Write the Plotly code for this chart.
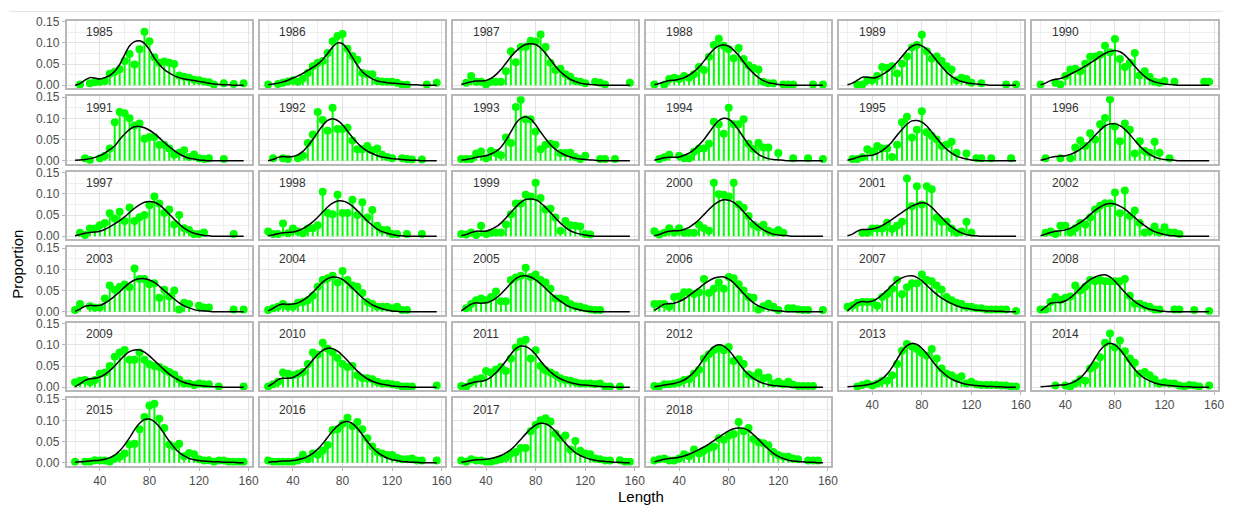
import plotly.graph_objects as go

N = None
lengths = list(range(20, 157, 4))
years = list(range(1985, 2019))
x_ticks = [40, 80, 120, 160]
x_minor = [20, 60, 100, 140]
y_ticks = [0.0, 0.05, 0.10, 0.15]
y_tick_text = ["0.00", "0.05", "0.10", "0.15"]
y_minor = [0.025, 0.075, 0.125]

# observed proportions per 4-cm length bin (20..156); None = no observation
obs_1985 = [N,0.002,N,0.005,0.007,0.008,0.01,0.027,0.032,0.038,0.057,0.074,0.049,0.085,0.126,0.104,0.066,0.053,0.056,0.053,0.05,0.023,0.02,0.018,0.013,0.012,0.009,0.007,0.002,N,0.005,N,0.003,N,0.005]
obs_1986 = [0.002,N,0.003,0.006,0.009,0.012,0.008,0.016,0.029,0.045,0.053,0.057,0.076,0.104,0.116,0.121,0.086,0.069,0.06,0.029,0.026,0.026,0.01,0.009,0.008,0.008,0.006,0.001,0.001,N,N,N,0.002,N,0.006]
obs_1987 = [N,0.006,0.022,0.008,0.008,0.002,0.008,0.008,0.008,0.033,0.08,0.054,0.09,0.091,0.105,0.103,0.12,0.09,0.053,0.036,0.039,0.026,0.02,0.01,0.008,0.005,N,0.008,0.006,0.002,N,N,N,N,0.006]
obs_1988 = [0.002,N,0.001,0.015,0.018,0.015,0.022,0.018,0.026,0.043,0.036,0.067,0.095,0.11,0.093,0.085,0.064,0.088,0.062,0.047,0.041,0.037,0.008,0.005,0.005,N,0.002,0.002,0.002,N,N,N,0.002,N,0.002]
obs_1989 = [N,N,0.001,0.002,0.012,0.012,0.022,0.043,0.041,0.045,0.028,0.051,0.068,0.089,0.095,0.119,0.08,0.063,0.068,0.057,0.045,0.037,0.012,0.018,0.015,0.006,N,0.005,N,N,N,N,0.002,N,0.002]
obs_1990 = [0.002,N,N,0.006,0.002,0.022,0.037,0.039,0.033,0.051,0.067,0.068,0.072,0.093,0.078,0.109,0.062,0.043,0.053,0.076,0.023,0.033,0.02,0.008,0.006,0.01,N,0.008,N,N,N,N,N,0.008,0.008]
obs_1991 = [N,N,0.006,0.002,N,0.006,0.012,0.029,0.091,0.115,0.112,0.1,0.083,0.088,0.052,0.056,0.056,0.038,0.038,0.029,0.014,0.019,0.025,0.009,0.015,0.006,0.004,0.006,N,N,0.004,N,N,N,N]
obs_1992 = [N,0.006,N,0.006,0.004,N,0.006,0.012,0.042,0.062,0.115,0.096,0.071,0.125,0.075,0.075,0.078,0.048,0.027,0.027,0.035,0.025,0.029,0.014,0.009,0.006,N,0.006,0.004,0.003,N,0.003,N,N,N]
obs_1993 = [0.004,0.004,0.004,0.017,0.022,0.006,0.023,0.018,0.013,0.055,0.042,0.127,0.144,0.098,0.098,0.069,0.027,0.038,0.04,0.038,0.018,0.018,0.019,0.009,0.004,0.012,N,N,0.004,0.004,N,0.004,N,N,N]
obs_1994 = [N,0.004,0.008,0.014,N,0.012,0.006,0.006,0.021,0.029,0.029,0.04,0.092,0.086,0.064,0.125,0.086,0.086,0.098,0.04,0.028,0.042,0.031,0.031,N,0.018,N,N,0.006,N,N,0.006,N,N,0.004]
obs_1995 = [N,0.004,0.004,0.008,0.027,0.022,0.035,0.029,0.029,0.009,0.038,0.091,0.104,0.055,0.073,0.117,0.067,0.059,0.05,0.035,0.038,0.045,0.019,N,0.017,N,0.006,0.006,N,0.006,N,N,N,0.006,N]
obs_1996 = [N,0.006,N,N,0.006,N,0.006,0.031,0.048,0.035,0.065,0.05,0.086,0.101,0.145,0.081,0.046,0.088,0.073,0.017,0.046,0.023,0.019,0.045,0.019,N,0.006,N,N,N,N,N,N,N,N]
obs_1997 = [N,0.008,0.003,0.018,0.018,0.026,0.031,0.054,0.042,0.058,0.036,0.068,0.036,0.045,0.05,0.073,0.094,0.077,0.055,0.063,0.028,0.05,0.019,0.015,0.005,0.005,0.009,N,N,N,N,N,0.005,N,N]
obs_1998 = [0.011,0.005,0.005,0.03,0.007,0.018,0.011,0.007,0.018,0.019,0.026,0.105,0.055,0.052,0.098,0.055,0.055,0.086,0.05,0.08,0.044,0.062,0.025,0.015,0.015,0.005,0.005,N,0.005,N,N,0.005,N,N,N]
obs_1999 = [0.005,0.004,0.009,0.003,0.025,0.005,0.008,0.009,0.009,0.028,0.052,0.077,0.077,0.098,0.094,0.126,0.09,0.063,0.065,0.044,0.013,0.036,0.026,0.025,0.023,0.005,0.004,N,N,N,N,N,N,N,N]
obs_2000 = [0.012,0.004,0.008,0.019,0.009,0.019,0.008,0.008,0.008,0.027,0.019,0.013,0.126,0.099,0.098,0.094,0.126,0.075,0.067,0.048,0.027,0.021,0.027,0.013,0.009,0.015,0.008,N,N,N,N,N,N,N,N]
obs_2001 = [N,N,N,0.008,0.008,0.018,0.018,0.018,0.032,0.017,0.025,0.034,0.136,0.071,0.118,0.075,0.118,0.111,0.044,0.034,0.034,0.018,0.008,0.011,0.034,0.009,N,N,N,N,N,N,N,N,N]
obs_2002 = [N,0.008,0.011,0.005,0.025,0.025,0.009,0.019,0.031,0.028,0.044,0.063,0.072,0.078,0.078,0.103,0.054,0.108,0.048,0.061,0.031,0.009,0.011,0.023,0.009,0.021,0.009,0.009,0.005,N,N,N,N,N,N]
obs_2003 = [0.004,0.018,N,0.013,0.01,0.01,0.031,0.062,0.052,0.059,0.064,0.058,0.102,0.077,0.077,0.065,0.067,0.033,0.052,0.036,0.05,0.005,0.021,0.018,N,0.014,0.01,0.01,N,N,N,N,0.005,N,0.005]
obs_2004 = [0.004,0.008,0.012,0.018,0.012,0.012,0.021,0.023,0.027,0.038,0.059,0.075,0.079,0.085,0.069,0.096,0.075,0.062,0.059,0.044,0.023,0.018,0.012,0.012,0.012,0.008,0.012,0.004,0.004,N,N,N,N,N,N]
obs_2005 = [N,0.008,0.018,0.027,0.031,0.027,0.035,0.048,0.025,0.025,0.075,0.081,0.085,0.104,0.082,0.088,0.075,0.069,0.054,0.031,0.031,0.028,0.018,0.013,0.012,0.008,0.005,0.004,0.004,N,N,N,N,N,N]
obs_2006 = [0.018,0.018,0.018,0.012,0.035,0.036,0.046,0.046,0.042,0.046,0.077,0.044,0.054,0.069,0.054,0.082,0.079,0.065,0.05,0.035,0.033,0.005,0.013,0.019,0.012,0.004,N,0.008,0.008,0.005,0.004,0.004,N,N,0.004]
obs_2007 = [0.012,0.015,0.021,0.023,0.023,0.023,0.014,0.035,0.042,0.054,0.075,0.041,0.058,0.067,0.067,0.088,0.075,0.072,0.062,0.052,0.035,0.027,0.021,0.018,0.012,0.012,0.008,0.008,0.005,0.005,0.005,0.005,0.005,N,0.002]
obs_2008 = [0.005,0.005,0.023,0.035,0.028,0.033,0.036,0.062,0.05,0.059,0.075,0.072,0.075,0.072,0.072,0.072,0.072,0.077,0.038,0.019,0.019,0.014,0.012,0.005,0.005,N,N,0.005,0.005,N,N,0.004,N,N,0.002]
obs_2009 = [0.012,0.015,0.017,0.012,0.017,0.032,0.035,0.05,0.072,0.082,0.088,0.065,0.065,0.082,0.065,0.054,0.05,0.048,0.042,0.036,0.03,0.018,0.009,0.009,0.005,0.009,0.007,0.007,N,0.002,N,N,N,N,0.002]
obs_2010 = [0.002,0.007,0.013,0.035,0.032,0.028,0.032,0.036,0.055,0.082,0.077,0.105,0.091,0.082,0.069,0.055,0.048,0.05,0.028,0.022,0.021,0.019,0.013,0.009,0.009,0.007,0.005,0.002,0.002,0.002,N,N,N,N,0.004]
obs_2011 = [0.003,0.001,0.012,0.018,0.021,0.038,0.035,0.042,0.048,0.038,0.068,0.094,0.108,0.112,0.068,0.087,0.05,0.04,0.035,0.029,0.021,0.017,0.015,0.012,0.009,0.009,0.009,0.007,0.009,0.002,0.002,N,0.002,N,N]
obs_2012 = [0.003,0.002,0.007,0.007,0.009,0.012,0.017,0.019,0.032,0.041,0.068,0.078,0.087,0.092,0.087,0.095,0.062,0.066,0.055,0.03,0.026,0.035,0.021,0.023,0.009,0.013,0.007,0.013,0.006,0.003,0.003,0.003,0.003,N,N]
obs_2013 = [N,N,0.002,0.005,0.009,0.004,0.009,0.015,0.015,0.028,0.055,0.086,0.102,0.096,0.09,0.081,0.075,0.09,0.068,0.044,0.032,0.028,0.021,0.026,0.009,0.013,0.007,0.005,0.005,0.005,0.005,0.004,0.004,0.002,0.002]
obs_2014 = [N,N,N,0.004,N,0.004,0.002,0.009,0.019,0.015,0.044,0.052,0.071,0.105,0.127,0.094,0.11,0.085,0.068,0.058,0.032,0.036,0.028,0.019,0.009,0.012,0.009,0.009,0.004,0.002,0.005,0.004,0.002,N,0.004]
obs_2015 = [0.002,N,0.002,0.002,0.006,0.005,0.005,0.002,0.01,0.014,0.022,0.043,0.045,0.079,0.108,0.135,0.139,0.104,0.082,0.043,0.038,0.045,0.015,0.023,0.02,0.008,0.005,0.006,0.002,0.005,0.005,0.002,0.002,0.002,0.002]
obs_2016 = [0.005,0.002,0.002,0.002,0.002,0.002,0.005,0.019,0.008,0.022,0.019,0.029,0.042,0.077,0.079,0.092,0.106,0.086,0.096,0.079,0.058,0.038,0.025,0.022,0.018,0.018,0.012,0.008,0.008,0.01,0.005,0.005,N,N,0.005]
obs_2017 = [0.005,0.002,0.008,0.005,0.005,0.002,0.002,0.005,0.008,0.012,0.022,0.025,0.035,0.035,0.074,0.089,0.1,0.105,0.097,0.069,0.058,0.064,0.031,0.051,0.028,0.022,0.02,0.01,0.008,0.005,0.005,N,0.006,0.002,0.002]
obs_2018 = [0.005,0.008,0.01,0.005,0.005,0.01,0.02,0.015,0.031,0.022,0.028,0.035,0.038,0.058,0.054,0.064,0.068,0.096,0.074,0.082,0.056,0.048,0.046,0.041,0.025,0.018,0.014,0.014,0.01,0.008,N,0.005,0.005,0.005,N]

# fitted proportions per length bin
fit_1985 = [0.0,0.004,0.012,0.018,0.017,0.015,0.018,0.023,0.033,0.049,0.072,0.093,0.103,0.105,0.099,0.084,0.064,0.049,0.037,0.029,0.022,0.018,0.015,0.013,0.011,0.009,0.007,0.005,0.003,0.002,0.001,0.001,0,0,0]
fit_1986 = [0.001,0.003,0.005,0.008,0.012,0.017,0.022,0.028,0.035,0.042,0.05,0.061,0.075,0.09,0.1,0.098,0.085,0.066,0.047,0.032,0.022,0.015,0.01,0.008,0.006,0.005,0.004,0.003,0.002,0.001,0.001,0,0,0,0]
fit_1987 = [0.002,0.005,0.008,0.01,0.01,0.011,0.016,0.025,0.037,0.052,0.067,0.08,0.09,0.096,0.098,0.096,0.088,0.075,0.06,0.045,0.032,0.022,0.014,0.009,0.005,0.003,0.002,0.001,0,0,0,0,0,0,0]
fit_1988 = [0.001,0.004,0.008,0.011,0.012,0.014,0.018,0.024,0.032,0.043,0.057,0.072,0.085,0.093,0.095,0.092,0.083,0.07,0.055,0.04,0.028,0.018,0.011,0.006,0.004,0.002,0.001,0,0,0,0,0,0,0,0]
fit_1989 = [0.001,0.005,0.012,0.019,0.019,0.017,0.019,0.025,0.032,0.042,0.054,0.068,0.082,0.092,0.096,0.093,0.085,0.073,0.058,0.044,0.031,0.021,0.014,0.009,0.006,0.004,0.003,0.002,0.001,0,0,0,0,0,0]
fit_1990 = [0.001,0.005,0.011,0.014,0.016,0.02,0.026,0.032,0.038,0.045,0.052,0.06,0.068,0.075,0.08,0.082,0.079,0.071,0.059,0.045,0.032,0.021,0.013,0.008,0.005,0.003,0.002,0.001,0,0,0,0,0,0,0]
fit_1991 = [0.001,0.002,0.003,0.005,0.008,0.012,0.018,0.026,0.035,0.05,0.063,0.074,0.08,0.081,0.078,0.072,0.064,0.054,0.043,0.033,0.024,0.016,0.01,0.006,0.004,0.002,0.001,0,0,0,0,0,0,0,0]
fit_1992 = [0,0.003,0.008,0.01,0.009,0.01,0.014,0.022,0.035,0.05,0.067,0.083,0.095,0.099,0.095,0.085,0.07,0.055,0.042,0.031,0.023,0.017,0.012,0.009,0.007,0.005,0.004,0.003,0.002,0.001,0.001,0,0,0,0]
fit_1993 = [0.001,0.003,0.005,0.008,0.01,0.012,0.016,0.022,0.032,0.048,0.068,0.088,0.1,0.104,0.098,0.085,0.068,0.052,0.038,0.027,0.019,0.013,0.009,0.006,0.004,0.003,0.002,0.001,0,0,0,0,0,0,0]
fit_1994 = [0.001,0.004,0.007,0.008,0.008,0.009,0.013,0.018,0.026,0.037,0.05,0.066,0.082,0.095,0.1,0.098,0.088,0.072,0.055,0.038,0.025,0.015,0.009,0.005,0.003,0.002,0.001,0,0,0,0,0,0,0,0]
fit_1995 = [0.001,0.004,0.008,0.011,0.012,0.013,0.017,0.024,0.033,0.045,0.06,0.074,0.086,0.094,0.095,0.091,0.082,0.068,0.053,0.039,0.027,0.018,0.011,0.007,0.004,0.002,0.001,0,0,0,0,0,0,0,0]
fit_1996 = [0.001,0.004,0.008,0.01,0.011,0.012,0.015,0.02,0.027,0.036,0.047,0.06,0.072,0.082,0.087,0.087,0.083,0.074,0.062,0.048,0.035,0.024,0.015,0.009,0.005,0.003,0.002,0.001,0,0,0,0,0,0,0]
fit_1997 = [0.001,0.004,0.007,0.009,0.01,0.012,0.016,0.022,0.029,0.037,0.046,0.056,0.066,0.074,0.08,0.082,0.08,0.074,0.064,0.052,0.04,0.029,0.019,0.012,0.007,0.004,0.002,0.001,0,0,0,0,0,0,0]
fit_1998 = [0.001,0.003,0.006,0.008,0.009,0.01,0.013,0.018,0.025,0.034,0.045,0.057,0.069,0.078,0.083,0.083,0.079,0.071,0.06,0.048,0.036,0.026,0.017,0.011,0.007,0.004,0.002,0.001,0,0,0,0,0,0,0]
fit_1999 = [0.001,0.004,0.009,0.012,0.012,0.012,0.016,0.022,0.031,0.043,0.056,0.069,0.08,0.087,0.088,0.086,0.079,0.068,0.056,0.043,0.031,0.021,0.013,0.008,0.005,0.003,0.001,0,0,0,0,0,0,0,0]
fit_2000 = [0.001,0.004,0.009,0.012,0.013,0.013,0.016,0.021,0.029,0.039,0.051,0.063,0.074,0.082,0.086,0.085,0.08,0.07,0.058,0.045,0.033,0.023,0.015,0.009,0.005,0.003,0.002,0.001,0,0,0,0,0,0,0]
fit_2001 = [0.001,0.005,0.012,0.016,0.016,0.017,0.02,0.025,0.032,0.04,0.048,0.056,0.064,0.071,0.076,0.079,0.077,0.068,0.056,0.044,0.032,0.022,0.014,0.008,0.004,0.002,0.001,0,0,0,0,0,0,0,0]
fit_2002 = [0.001,0.005,0.009,0.012,0.013,0.015,0.019,0.025,0.032,0.041,0.051,0.061,0.069,0.075,0.077,0.076,0.071,0.064,0.054,0.044,0.034,0.025,0.017,0.011,0.007,0.004,0.002,0.001,0,0,0,0,0,0,0]
fit_2003 = [0.001,0.006,0.013,0.015,0.014,0.015,0.02,0.028,0.037,0.047,0.058,0.068,0.075,0.078,0.078,0.075,0.069,0.06,0.05,0.04,0.03,0.021,0.014,0.009,0.005,0.003,0.002,0.001,0,0,0,0,0,0,0]
fit_2004 = [0.002,0.008,0.015,0.018,0.017,0.018,0.021,0.027,0.035,0.046,0.058,0.07,0.078,0.082,0.081,0.076,0.067,0.056,0.044,0.033,0.024,0.016,0.011,0.007,0.004,0.002,0.001,0,0,0,0,0,0,0,0]
fit_2005 = [0.002,0.01,0.018,0.021,0.02,0.021,0.025,0.032,0.042,0.054,0.067,0.078,0.084,0.085,0.082,0.075,0.066,0.055,0.044,0.034,0.025,0.017,0.011,0.007,0.004,0.002,0.001,0,0,0,0,0,0,0,0]
fit_2006 = [0.003,0.011,0.018,0.019,0.02,0.024,0.03,0.038,0.047,0.056,0.065,0.073,0.079,0.082,0.082,0.077,0.068,0.056,0.043,0.031,0.021,0.014,0.009,0.005,0.003,0.002,0.001,0,0,0,0,0,0,0,0]
fit_2007 = [0.002,0.012,0.021,0.024,0.023,0.025,0.031,0.04,0.051,0.063,0.073,0.08,0.084,0.085,0.081,0.073,0.062,0.051,0.041,0.032,0.025,0.019,0.014,0.01,0.008,0.006,0.004,0.003,0.002,0.002,0.001,0.001,0,0,0]
fit_2008 = [0.002,0.011,0.02,0.022,0.022,0.026,0.033,0.043,0.055,0.067,0.076,0.082,0.086,0.087,0.082,0.072,0.059,0.046,0.034,0.024,0.016,0.01,0.006,0.004,0.002,0.001,0,0,0,0,0,0,0,0,0]
fit_2009 = [0.001,0.008,0.016,0.02,0.021,0.024,0.03,0.039,0.05,0.063,0.075,0.084,0.088,0.088,0.083,0.074,0.063,0.052,0.041,0.031,0.023,0.016,0.011,0.008,0.005,0.004,0.003,0.002,0.001,0.001,0,0,0,0,0]
fit_2010 = [0.002,0.009,0.018,0.021,0.021,0.023,0.029,0.038,0.05,0.064,0.077,0.087,0.092,0.091,0.085,0.075,0.063,0.05,0.038,0.028,0.02,0.014,0.01,0.007,0.005,0.003,0.002,0.001,0.001,0,0,0,0,0,0]
fit_2011 = [0.002,0.006,0.01,0.013,0.014,0.017,0.024,0.034,0.047,0.062,0.078,0.091,0.097,0.096,0.089,0.077,0.062,0.048,0.036,0.027,0.02,0.015,0.011,0.008,0.006,0.005,0.004,0.003,0.002,0.001,0.001,0,0,0,0]
fit_2012 = [0.001,0.003,0.005,0.007,0.009,0.012,0.017,0.025,0.036,0.051,0.068,0.084,0.096,0.1,0.097,0.087,0.073,0.057,0.042,0.03,0.021,0.014,0.009,0.006,0.004,0.003,0.002,0.001,0,0,0,0,0,0,0]
fit_2013 = [0.001,0.002,0.003,0.004,0.006,0.008,0.013,0.02,0.031,0.047,0.066,0.085,0.098,0.103,0.101,0.092,0.079,0.064,0.049,0.037,0.027,0.019,0.014,0.01,0.007,0.005,0.004,0.003,0.002,0.002,0.001,0.001,0,0,0]
fit_2014 = [0.001,0.002,0.003,0.004,0.005,0.006,0.009,0.014,0.022,0.034,0.05,0.069,0.087,0.099,0.104,0.1,0.089,0.074,0.057,0.042,0.03,0.021,0.015,0.01,0.007,0.005,0.004,0.003,0.002,0.001,0.001,0,0,0,0]
fit_2015 = [0.001,0.002,0.003,0.004,0.005,0.006,0.008,0.012,0.018,0.028,0.042,0.059,0.078,0.093,0.102,0.103,0.097,0.085,0.068,0.051,0.036,0.024,0.016,0.01,0.007,0.005,0.004,0.003,0.002,0.002,0.001,0.001,0.001,0,0]
fit_2016 = [0.001,0.002,0.003,0.004,0.004,0.005,0.007,0.01,0.015,0.022,0.032,0.045,0.06,0.075,0.087,0.095,0.097,0.092,0.081,0.066,0.05,0.036,0.025,0.017,0.011,0.007,0.005,0.003,0.002,0.001,0.001,0,0,0,0]
fit_2017 = [0.001,0.003,0.005,0.007,0.007,0.008,0.01,0.013,0.017,0.023,0.031,0.042,0.055,0.068,0.08,0.089,0.093,0.092,0.085,0.074,0.06,0.046,0.034,0.024,0.017,0.012,0.008,0.006,0.004,0.003,0.002,0.001,0.001,0,0]
fit_2018 = [0.002,0.005,0.008,0.01,0.011,0.013,0.016,0.02,0.025,0.031,0.037,0.044,0.052,0.06,0.068,0.075,0.08,0.082,0.081,0.076,0.066,0.055,0.043,0.032,0.022,0.015,0.01,0.006,0.004,0.003,0.002,0.001,0.001,0,0]

g = globals()
panels = [(yr, g[f"obs_{yr}"], g[f"fit_{yr}"]) for yr in years]

# ---- layout geometry (pixels) ----
W, H = 1238, 510
NCOL = 6
LEFT0, PITCH_X, PW = 67.0, 194.2, 186.5
TOP0, PITCH_Y, PH = 15.0, 77.0, 69.0

GREEN = "#00FF00"
BORDER = "#B8B8B8"
GRID = "#E3E3E3"
GRID_MINOR = "#EFEFEF"
FONT = "Liberation Sans, Arial, sans-serif"
TICKFONT = dict(family=FONT, size=12, color="#4D4D4D")

fig = go.Figure()
layout = dict(
    width=W, height=H, autosize=False,
    margin=dict(l=0, r=0, t=0, b=0),
    paper_bgcolor="white", plot_bgcolor="white",
    showlegend=False,
)
annotations = []
n = len(panels)

for i, (yr, obs, fit) in enumerate(panels):
    k = i + 1
    r, c = divmod(i, NCOL)
    xa = "x" if k == 1 else f"x{k}"
    ya = "y" if k == 1 else f"y{k}"
    last_row = max(rr for rr in range(10) if rr * NCOL + c < n)
    bottom = (r == last_row)
    left = (c == 0)

    x0 = (LEFT0 + c * PITCH_X) / W
    x1 = (LEFT0 + c * PITCH_X + PW) / W
    top = TOP0 + r * PITCH_Y
    y1 = 1 - top / H
    y0 = 1 - (top + PH) / H

    sx, sy, px, py = [], [], [], []
    for L, v in zip(lengths, obs):
        if v is None:
            continue
        sx += [L, L, None]
        sy += [0, v, None]
        px.append(L)
        py.append(v)

    fig.add_trace(go.Scatter(x=sx, y=sy, mode="lines", line=dict(color=GREEN, width=2),
                             xaxis=xa, yaxis=ya, hoverinfo="skip"))
    fig.add_trace(go.Scatter(x=px, y=py, mode="markers", marker=dict(color=GREEN, size=8, line=dict(width=0)),
                             xaxis=xa, yaxis=ya))
    fig.add_trace(go.Scatter(x=lengths, y=fit, mode="lines",
                             line=dict(color="black", width=1.5, shape="spline", smoothing=0.7),
                             xaxis=xa, yaxis=ya))

    layout["xaxis" if k == 1 else f"xaxis{k}"] = dict(
        domain=[x0, x1], anchor=ya, range=[13.2, 162.8],
        tickmode="array", tickvals=x_ticks, ticktext=[str(t) for t in x_ticks],
        showticklabels=bottom, ticks="outside" if bottom else "", ticklen=3, tickcolor=BORDER,
        tickfont=TICKFONT,
        showgrid=True, gridcolor=GRID, gridwidth=1,
        minor=dict(tickmode="array", tickvals=x_minor, showgrid=True, gridcolor=GRID_MINOR, gridwidth=0.6, ticks=""),
        showline=True, mirror=True, linecolor=BORDER, linewidth=1.5, zeroline=False,
    )
    layout["yaxis" if k == 1 else f"yaxis{k}"] = dict(
        domain=[y0, y1], anchor=xa, range=[-0.0073, 0.1523],
        tickmode="array", tickvals=y_ticks, ticktext=y_tick_text,
        showticklabels=left, ticks="outside" if left else "", ticklen=3, tickcolor=BORDER,
        tickfont=TICKFONT,
        showgrid=True, gridcolor=GRID, gridwidth=1,
        minor=dict(tickmode="array", tickvals=y_minor, showgrid=True, gridcolor=GRID_MINOR, gridwidth=0.6, ticks=""),
        showline=True, mirror=True, linecolor=BORDER, linewidth=1.5, zeroline=False,
    )
    annotations.append(dict(
        x=40, y=0.125, xref=xa, yref=ya, text=str(yr), showarrow=False,
        font=dict(family=FONT, size=12, color="#333333"),
        xanchor="center", yanchor="middle",
    ))

annotations.append(dict(
    x=18 / W, y=1 - 263 / H, xref="paper", yref="paper", text="Proportion", textangle=-90,
    showarrow=False, font=dict(family=FONT, size=15, color="#000000"),
    xanchor="center", yanchor="middle",
))
annotations.append(dict(
    x=645 / W, y=1 - 500 / H, xref="paper", yref="paper", text="Length",
    showarrow=False, font=dict(family=FONT, size=15, color="#000000"),
    xanchor="center", yanchor="middle",
))
layout["annotations"] = annotations
layout["shapes"] = [dict(type="line", xref="paper", yref="paper", x0=9 / W, x1=1230 / W,
                         y0=1 - 5.5 / H, y1=1 - 5.5 / H, line=dict(color="#E3E3E3", width=1))]

fig.update_layout(**layout)
fig.write_html("out.html", config={"displayModeBar": False},
               post_script="document.body.style.margin='0';document.body.style.padding='0';document.body.style.overflow='hidden';")
